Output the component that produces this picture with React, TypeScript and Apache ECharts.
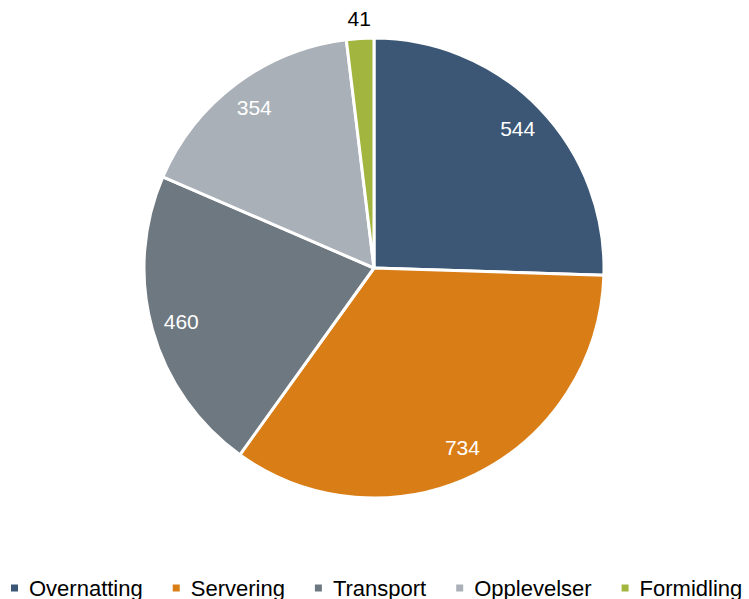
import React, { useEffect, useRef } from "react";
import * as echarts from "echarts";

const categories = ["Overnatting", "Servering", "Transport", "Opplevelser", "Formidling"];
const values = [544, 734, 460, 354, 41];
const colors = ["#3B5775", "#D97E17", "#6E7880", "#A9B0B7", "#A2B53E"];

const FONT = "'Liberation Sans', Arial, sans-serif";

export default function App() {
  const ref = useRef<HTMLDivElement>(null);
  useEffect(() => {
    if (!ref.current) return;
    const chart = echarts.init(ref.current, null, { renderer: "svg" });
    const pieData = categories.map((name, i) => ({ name, value: values[i], itemStyle: { color: colors[i] } }));
    const labelData = categories.map((name, i) => {
      const small = values[i] < 100;
      return {
        name,
        value: values[i],
        label: small
          ? { position: "outside", color: "#000000" }
          : { position: "inside", color: "#ffffff" },
      };
    });
    chart.setOption({
      animation: false,
      backgroundColor: "#ffffff",
      legend: {
        data: categories,
        left: 9,
        top: 577,
        padding: 0,
        icon: "rect",
        itemWidth: 9,
        itemHeight: 9,
        itemGap: 28,
        textStyle: { fontFamily: FONT, fontSize: 22, color: "#000000", padding: [0, 0, 0, 5] },
      },
      series: [
        {
          type: "pie",
          center: [374, 268],
          radius: [0, 230],
          startAngle: 90,
          clockwise: true,
          data: pieData,
          label: { show: false },
          labelLine: { show: false },
          itemStyle: { borderColor: "#ffffff", borderWidth: 3 },
          emphasis: { disabled: true },
        },
        {
          type: "pie",
          center: [374, 268],
          radius: [164, 230],
          startAngle: 90,
          clockwise: true,
          silent: true,
          data: labelData,
          itemStyle: { color: "rgba(0,0,0,0)" },
          label: { show: true, formatter: "{c}", fontFamily: FONT, fontSize: 21 },
          labelLine: { show: false, length: 20, length2: 0 },
          labelLayout: (p: any) => (p.dataIndex === 4 ? { dx: 17 } : {}),
          emphasis: { disabled: true },
        },
      ],
    });
    return () => chart.dispose();
  }, []);
  return <div ref={ref} style={{ width: 749, height: 599, position: "absolute", left: 0, top: 0 }} />;
}
